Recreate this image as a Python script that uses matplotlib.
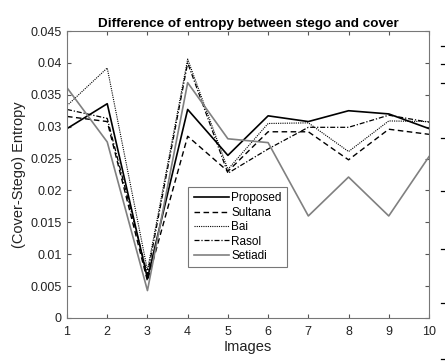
import matplotlib
matplotlib.use("Agg")
import matplotlib.pyplot as plt
from matplotlib.lines import Line2D

plt.rcParams['font.family'] = ['Liberation Sans', 'DejaVu Sans']

images = [1, 2, 3, 4, 5, 6, 7, 8, 9, 10]
proposed = [0.0297, 0.0336, 0.0062, 0.0327, 0.0255, 0.0317, 0.0308, 0.0325, 0.0320, 0.0297]
sultana = [0.0316, 0.0308, 0.0058, 0.0285, 0.0230, 0.0292, 0.0292, 0.0248, 0.0296, 0.0288]
bai = [0.0333, 0.0392, 0.0075, 0.0406, 0.0233, 0.0305, 0.0306, 0.0261, 0.0309, 0.0308]
rasol = [0.0327, 0.0313, 0.0068, 0.0400, 0.0227, 0.0265, 0.0299, 0.0299, 0.0318, 0.0307]
setiadi = [0.0361, 0.0276, 0.0043, 0.0369, 0.0281, 0.0275, 0.0160, 0.0221, 0.0160, 0.0253]
names = ['Proposed', 'Sultana', 'Bai', 'Rasol', 'Setiadi']
yticks = [0, 0.005, 0.01, 0.015, 0.02, 0.025, 0.03, 0.035, 0.04, 0.045]
ytick_labels = ['0', '0.005', '0.01', '0.015', '0.02', '0.025', '0.03', '0.035', '0.04', '0.045']

fig = plt.figure(figsize=(4.45, 3.64), dpi=100)
ax = fig.add_axes([0.1506, 0.1264, 0.8134, 0.7884])

ax.plot(images, proposed, color='black', lw=1.2, label=names[0])
ax.plot(images, sultana, color='black', lw=1.0, ls=(0, (4, 2.5)), label=names[1])
ax.plot(images, bai, color='black', lw=0.8, ls=(0, (1, 1)), label=names[2])
ax.plot(images, rasol, color='black', lw=0.9, ls=(0, (4, 1.5, 1, 1.5)), label=names[3])
ax.plot(images, setiadi, color='#808080', lw=1.2, label=names[4])

ax.set_xlim(1, 10)
ax.set_ylim(0, 0.045)
ax.set_xticks(images)
ax.set_yticks(yticks)
ax.set_yticklabels(ytick_labels)
ax.tick_params(direction='in', top=True, right=True, labelsize=9, length=3,
               color='#555555', labelcolor='#222222')
ax.tick_params(axis='x', pad=6)
ax.tick_params(axis='y', pad=4)
for s in ax.spines.values():
    s.set_color('#777777')
    s.set_linewidth(0.8)

ax.set_xlabel('Images', fontsize=10.5, color='#222222', labelpad=1)
ax.set_ylabel('(Cover-Stego) Entropy', fontsize=10.5, color='#222222', labelpad=3)
ax.set_title('Difference of entropy between stego and cover', fontsize=9.7,
             fontweight='bold', pad=3)

leg = ax.legend(loc='upper left', bbox_to_anchor=(0.335, 0.456),
                fontsize=8.5, frameon=True, fancybox=False,
                borderpad=0.45, labelspacing=0.2, handlelength=3.0,
                handletextpad=0.2, borderaxespad=0)
leg.get_frame().set_edgecolor('#555555')
leg.get_frame().set_linewidth(0.8)

# small clipped marks at the right edge of the image
for ypix in [46, 64, 83, 138, 191, 249, 303, 359]:
    yf = 1 - ypix / 364
    fig.lines.append(Line2D([440.5 / 445, 445 / 445], [yf, yf],
                            transform=fig.transFigure, color='black', lw=0.9))

fig.savefig('out.png', dpi=100)
